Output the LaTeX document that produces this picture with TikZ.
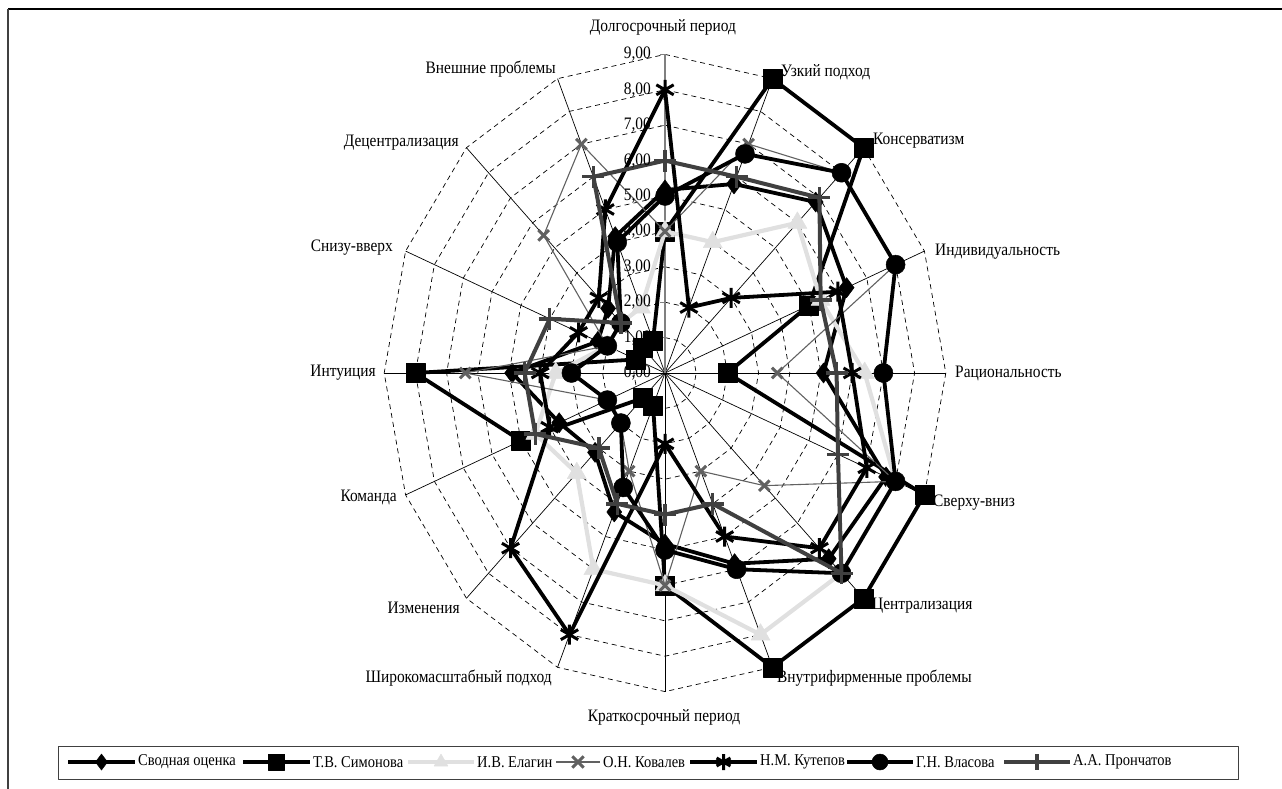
\documentclass[tikz,border=0pt]{standalone}
\usepackage{fontspec}
\setmainfont{Liberation Serif}[FakeStretch=0.88]
\usetikzlibrary{plotmarks}

\definecolor{elagin}{gray}{0.88}
\definecolor{kovalev}{gray}{0.38}
\definecolor{pronch}{gray}{0.25}

% one series: prefix, line style, mark style, 16 values
\newcommand\radarseries[4]{%
  \foreach \v [count=\k from 0] in {#4}
    \coordinate (#1\k) at ({90-22.5*\k}:\v);
  \draw[#2] (#10) \foreach \k in {1,...,15} {-- (#1\k)} -- cycle;
  \foreach \k in {0,...,15}
    \draw[#3] plot[only marks] coordinates {(#1\k)};
}

\begin{document}
\begin{tikzpicture}[x=1pt,y=-1pt,line join=round]
% Styles
\tikzset{
  gridline/.style={dash pattern=on 5pt off 4pt, line width=0.7pt},
  axisline/.style={line width=0.7pt},
  valaxis/.style={line width=1.3pt, gray},
  lbl/.style={font=\fontsize{17.5}{20}\selectfont, inner sep=0pt},
  leg/.style={font=\fontsize{16.5}{19}\selectfont, inner sep=0pt},
  svodline/.style={line width=3.8pt, black},
  svodmark/.style={black, mark=diamond*, mark size=10pt, mark options={solid, line width=0.5pt, fill=black}},
  simline/.style={line width=3.8pt, black},
  simmark/.style={black, mark=square*, mark size=9.5pt, mark options={solid, line width=0.5pt, fill=black}},
  elaline/.style={line width=4.2pt, elagin},
  elamark/.style={elagin, mark=triangle*, mark size=11pt, mark options={solid, line width=0.5pt, fill=elagin}},
  kovline/.style={line width=1.1pt, kovalev},
  kovmark/.style={kovalev, mark=x, mark size=7.5pt, mark options={solid, line width=3pt}},
  kutline/.style={line width=3.8pt, black},
  kutmark/.style={black, mark=asterisk, mark size=10pt, mark options={solid, line width=3pt}},
  vlaline/.style={line width=3.8pt, black},
  vlamark/.style={black, mark=*, mark size=9.5pt, mark options={solid, line width=0.5pt, fill=black}},
  proline/.style={line width=4pt, pronch},
  promark/.style={pronch, mark=+, mark size=11pt, mark options={solid, line width=3.4pt}},
}
\useasboundingbox (0,0) rectangle (1282,789);

% frame
\draw[line width=1.5pt] (8,9) -- (1282,9);
\draw[line width=2pt, darkgray] (8,9) -- (8,789);

% chart
\begin{scope}[shift={(665,373)}, x=31.2pt, y=35.4pt]
\coordinate (O) at (0,0);
% rings
\foreach \r in {1,...,9} {
\draw[gridline] (90:\r) \foreach \k in {1,...,15} {-- ({90-22.5*\k}:\r)} -- cycle;
}
% axes
\foreach \k in {1,...,15} {
\coordinate (ax\k) at ({90-22.5*\k}:9);
\draw[axisline] (O) -- (ax\k);
}
\coordinate (ax0) at (90:9);
\draw[valaxis] (O) -- (ax0);
\foreach \r in {1,...,9} {
\draw[valaxis, line width=0.8pt] (-0.15,\r) -- (0,\r);
}

% series
\radarseries{sv}{svodline}{svodmark}{5.17,5.78,6.83,6.30,5.08,7.67,7.42,5.83,4.83,4.25,3.17,3.67,4.90,2.33,2.58,4.17}
\radarseries{si}{simline}{simmark}{4,9,9,5,2,9,9,9,6,1,1,5,8,1,1,1}
\radarseries{el}{elaline}{elamark}{4,4,6,5.4,6.4,8,8,8,6,6,4,4.5,3.5,2,2,2}
\radarseries{ko}{kovline}{kovmark}{4,7,8,8,3.6,8,4.5,3,6,3,2,2,6.4,2,5.5,7}
\radarseries{ku}{kutline}{kutmark}{8,2,3,6,6,7,7,5,2,8,7,4,4,3,3,5}
\radarseries{vl}{vlaline}{vlamark}{5,6.7,8,8,7,8,8,6,5,3.5,2,2,3,2,2,4}
\radarseries{pr}{proline}{promark}{6,6,7,5.4,5.5,6,8,4,4,4,3,4.5,4.5,4,2,6}
\end{scope}

% value labels
\foreach \r in {0,...,9} {
\node[lbl, anchor=east] (val\r) at (651,{373-35.4*\r}) {\r,00};
}

% axis labels
\node[lbl] (l0) at (663,27) {Долгосрочный период};
\node[lbl, anchor=west] (l1) at (781,72) {Узкий подход};
\node[lbl, anchor=west] (l2) at (873,141) {Консерватизм};
\node[lbl, anchor=west] (l3) at (935,252) {Индивидуальность};
\node[lbl, anchor=west] (l4) at (955,373) {Рациональность};
\node[lbl, anchor=west] (l5) at (933,503) {Сверху-вниз};
\node[lbl, anchor=west] (l6) at (872,606) {Централизация};
\node[lbl, anchor=west] (l7) at (777,678) {Внутрифирменные проблемы};
\node[lbl] (l8) at (664,717) {Краткосрочный период};
\node[lbl, anchor=east] (l9) at (552,678) {Широкомасштабный подход};
\node[lbl, anchor=east] (l10) at (460,608) {Изменения};
\node[lbl, anchor=east] (l11) at (397,497) {Команда};
\node[lbl, anchor=east] (l12) at (376,373) {Интуиция};
\node[lbl, anchor=east] (l13) at (393,248) {Снизу-вверх};
\node[lbl, anchor=east] (l14) at (459,143) {Децентрализация};
\node[lbl, anchor=east] (l15) at (556,69) {Внешние проблемы};

% legend
\draw[line width=1pt, darkgray] (58,746) rectangle (1238,779);
\foreach \x/\y/\ln/\mk/\name [count=\i] in {
  68/135/svodline/svodmark/Сводная оценка,
  243/310/simline/simmark/Т.В. Симонова,
  408/474/elaline/elamark/И.В. Елагин,
  556/600/kovline/kovmark/О.Н. Ковалев,
  690/757/kutline/kutmark/Н.М. Кутепов,
  847/913/vlaline/vlamark/Г.Н. Власова,
  1004/1070/proline/promark/А.А. Прончатов} {
\coordinate (la\i) at (\x,762);
\coordinate (lb\i) at (\y,762);
\coordinate (lm\i) at ({(\x+\y)/2},762);
\draw[\ln] (la\i) -- (lb\i);
\draw[\mk, mark size=8pt] plot[only marks] coordinates {(lm\i)};
\node[leg, anchor=west] (ln\i) at ([xshift=3pt]lb\i) {\name};
}
\end{tikzpicture}
\end{document}
